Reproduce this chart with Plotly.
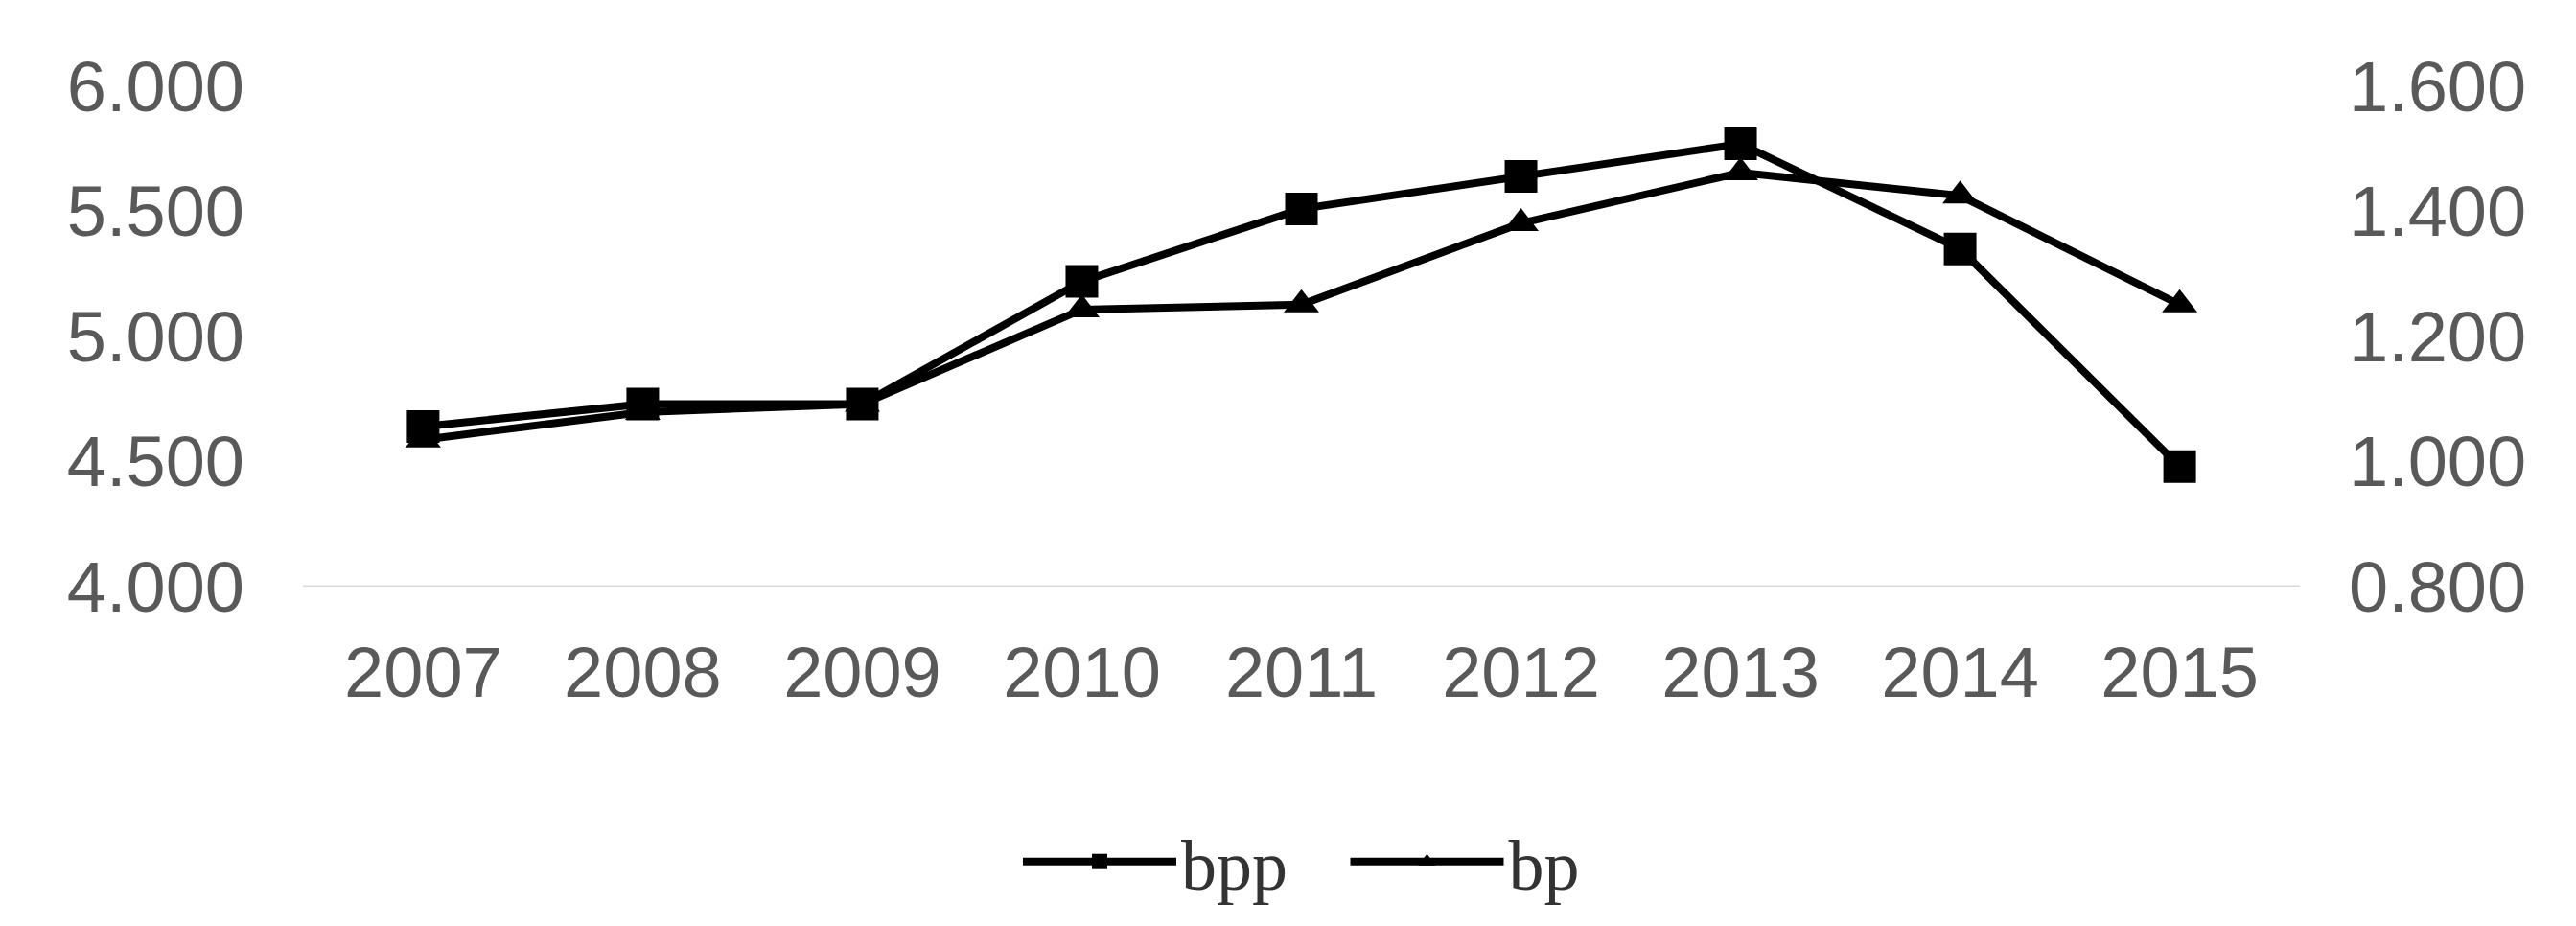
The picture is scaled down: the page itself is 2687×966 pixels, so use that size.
import plotly.graph_objects as go

years = ["2007","2008","2009","2010","2011","2012","2013","2014","2015"]
bpp = [4.64, 4.73, 4.73, 5.22, 5.51, 5.64, 5.77, 5.35, 4.48]
bp = [1.035, 1.079, 1.092, 1.243, 1.251, 1.381, 1.462, 1.425, 1.251]

fig = go.Figure()
fig.add_trace(go.Scatter(x=years, y=bpp, name="bpp   ", mode="lines+markers",
    line=dict(color="black", width=8), marker=dict(symbol="square", size=34, color="black")))
fig.add_trace(go.Scatter(x=years, y=bp, name="bp", mode="lines+markers", yaxis="y2",
    line=dict(color="black", width=8), marker=dict(symbol="triangle-up", size=32, color="black")))

tf = dict(family="Liberation Sans, Arial", size=74, color="#595959")
fig.update_layout(
    width=2687, height=966, plot_bgcolor="white", paper_bgcolor="white",
    margin=dict(l=308, r=296, t=82, b=362),
    xaxis=dict(tickfont=tf, showgrid=False, showline=False, ticks="", ticklabelstandoff=40),
    yaxis=dict(range=[4, 6], tickvals=[4, 4.5, 5, 5.5, 6], tickformat=".3f",
               tickfont=tf, showgrid=False, zeroline=False, ticklabelstandoff=60),
    yaxis2=dict(range=[0.8, 1.6], tickvals=[0.8, 1.0, 1.2, 1.4, 1.6], tickformat=".3f",
                tickfont=tf, overlaying="y", side="right", showgrid=False, zeroline=False,
                ticklabelstandoff=50),
    legend=dict(orientation="h", x=0.5, xanchor="center", y=-0.55, yanchor="middle",
                font=dict(family="Liberation Serif", size=74, color="#333"), itemwidth=160),
    showlegend=True,
)
fig.add_shape(type="line", xref="paper", yref="y", x0=0, x1=1, y0=4, y1=4,
              line=dict(color="#d9d9d9", width=3), layer="below")
fig.write_html("out.html")
